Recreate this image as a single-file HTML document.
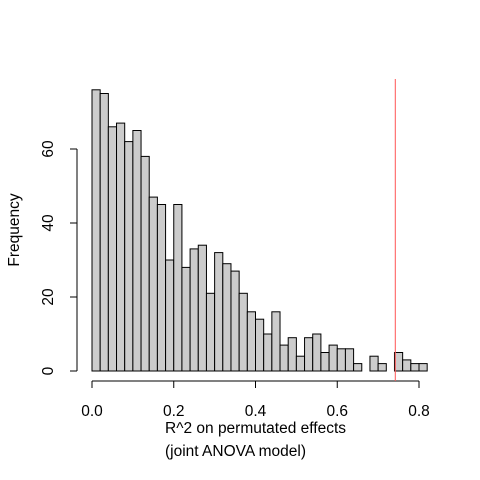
<!DOCTYPE html>
<html><head><meta charset="utf-8"><style>body{margin:0;background:#fff}svg{display:block;font-family:"Liberation Sans",sans-serif}</style></head>
<body>
<svg id="c" width="480" height="480"></svg>
<script>
const counts=[76,75,66,67,62,65,58,47,45,30,45,28,33,34,21,32,29,27,21,16,14,10,16,7,9,4,9,10,5,7,6,6,2,0,4,2,0,5,3,2,2];
const binStart=0, binWidth=0.02;
const xTicks=[0,0.2,0.4,0.6,0.8];
const xTickLabels=["0.0","0.2","0.4","0.6","0.8"];
const yTicks=[0,20,40,60];
const observed=0.742;
const NS="http://www.w3.org/2000/svg";
const svg=document.getElementById('c');
const X=v=>92+v*408.75, Y=v=>371-v*3.7;
function mk(t,a,p){const e=document.createElementNS(NS,t);for(const k in a)e.setAttribute(k,a[k]);(p||svg).appendChild(e);return e;}
counts.forEach((c,i)=>{
 const x0=X(binStart+i*binWidth),x1=X(binStart+(i+1)*binWidth);
 const r=mk('rect',{x:x0,y:Y(c),width:x1-x0,height:Y(0)-Y(c),fill:'#cccccc',stroke:'#000','stroke-width':1});
 
 
});
const xa=mk('g',{});


mk('line',{x1:X(xTicks[0]),x2:X(xTicks[xTicks.length-1]),y1:381,y2:381,stroke:'#000'},xa);
xTicks.forEach((t,i)=>{
 mk('line',{x1:X(t),x2:X(t),y1:381,y2:388,stroke:'#000'},xa);
 const tx=mk('text',{x:X(t),y:416,'text-anchor':'middle','font-size':15.5},xa);tx.textContent=xTickLabels[i];
 
 
});
const ya=mk('g',{});


mk('line',{x1:77,x2:77,y1:Y(yTicks[0]),y2:Y(yTicks[yTicks.length-1]),stroke:'#000'},ya);
yTicks.forEach(t=>{
 mk('line',{x1:70,x2:77,y1:Y(t),y2:Y(t),stroke:'#000'},ya);
 const tx=mk('text',{x:53,y:Y(t),'text-anchor':'middle','font-size':15.5,transform:`rotate(-90 53 ${Y(t)})`},ya);tx.textContent=t;
 
 
});
const rl=mk('line',{x1:X(observed),x2:X(observed),y1:79,y2:381,stroke:'#ff5555','stroke-width':1});


const yt=mk('text',{x:19,y:230,'text-anchor':'middle','font-size':15.5,transform:'rotate(-90 19 230)'});yt.textContent='Frequency';


const x1=mk('text',{x:165,y:433,'font-size':15.5});x1.textContent='R^2 on permutated effects';


const x2=mk('text',{x:165,y:456,'font-size':15.5});x2.textContent='(joint ANOVA model)';


</script>
</body></html>
